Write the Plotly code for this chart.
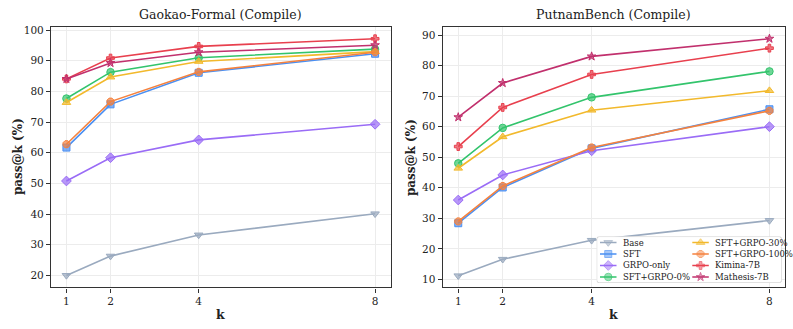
import plotly.graph_objects as go

# ---- data -------------------------------------------------------------
K = [1, 2, 4, 8]
SERIES = ["Base", "SFT", "GRPO-only", "SFT+GRPO-0%",
          "SFT+GRPO-30%", "SFT+GRPO-100%", "Kimina-7B", "Mathesis-7B"]

gaokao_base = [20.0, 26.3, 33.2, 40.1]
gaokao_sft = [61.7, 75.8, 86.1, 92.3]
gaokao_grpo = [50.8, 58.4, 64.2, 69.3]
gaokao_sft_grpo_0 = [77.7, 86.3, 91.0, 93.8]
gaokao_sft_grpo_30 = [76.4, 84.7, 89.8, 93.0]
gaokao_sft_grpo_100 = [62.8, 76.7, 86.4, 92.8]
gaokao_kimina = [84.1, 90.9, 94.7, 97.2]
gaokao_mathesis = [84.1, 89.3, 92.8, 95.1]

putnam_base = [11.2, 16.6, 22.8, 29.3]
putnam_sft = [28.4, 40.1, 52.9, 65.7]
putnam_grpo = [36.0, 44.2, 52.1, 60.0]
putnam_sft_grpo_0 = [48.0, 59.6, 69.6, 78.1]
putnam_sft_grpo_30 = [46.4, 56.7, 65.4, 71.8]
putnam_sft_grpo_100 = [29.0, 40.6, 53.2, 65.2]
putnam_kimina = [53.5, 66.3, 77.1, 85.7]
putnam_mathesis = [63.1, 74.3, 83.0, 88.8]

GAOKAO = [gaokao_base, gaokao_sft, gaokao_grpo, gaokao_sft_grpo_0,
          gaokao_sft_grpo_30, gaokao_sft_grpo_100, gaokao_kimina, gaokao_mathesis]
PUTNAM = [putnam_base, putnam_sft, putnam_grpo, putnam_sft_grpo_0,
          putnam_sft_grpo_30, putnam_sft_grpo_100, putnam_kimina, putnam_mathesis]

TITLES = ["Gaokao-Formal (Compile)", "PutnamBench (Compile)"]

# ---- styles -----------------------------------------------------------
COLORS = ["#9aaabf", "#4a8ff2", "#9a6cf6", "#33c46c",
          "#f2b92c", "#f5823e", "#e8404e", "#c1306d"]
SYMBOLS = ["triangle-down", "square", "diamond", "circle",
           "triangle-up", "octagon", "cross", "star"]
SIZES = [7.5, 7, 7.5, 7.5, 7.5, 7.5, 6.5, 6.5]
FONT = "DejaVu Serif"
W, H = 793, 329


def rgba(hex_color, a):
    h = hex_color.lstrip("#")
    r, g, b = int(h[0:2], 16), int(h[2:4], 16), int(h[4:6], 16)
    return f"rgba({r},{g},{b},{a})"


fig = go.Figure()

panels = [("x", "y", GAOKAO), ("x2", "y2", PUTNAM)]
for xa, ya, data in panels:
    for i, vals in enumerate(data):
        fig.add_trace(go.Scatter(
            x=K, y=vals, mode="lines+markers", name=SERIES[i],
            xaxis=xa, yaxis=ya, showlegend=False,
            line=dict(color=COLORS[i], width=1.6),
            marker=dict(symbol=SYMBOLS[i], size=SIZES[i], color=rgba(COLORS[i], 0.7),
                        line=dict(color=COLORS[i], width=1)),
        ))

# ---- legend drawn on its own hidden axes --------------------------------
BOX_W, BOX_H = 185.0, 46.6
ROW0, ROW_STEP = 6.0, 11.6
COL_X = [3.3, 95.6]
SEG = 16.5
for i, name in enumerate(SERIES):
    col, row = divmod(i, 4)
    yy = -(ROW0 + row * ROW_STEP)
    x0 = COL_X[col]
    fig.add_trace(go.Scatter(
        x=[x0, x0 + SEG / 2, x0 + SEG], y=[yy, yy, yy],
        mode="lines+markers", xaxis="x3", yaxis="y3", showlegend=False,
        hoverinfo="skip",
        line=dict(color=COLORS[i], width=1.6),
        marker=dict(symbol=SYMBOLS[i], size=[0, SIZES[i], 0], color=rgba(COLORS[i], 0.7),
                    line=dict(color=COLORS[i], width=1)),
    ))
    fig.add_annotation(x=x0 + SEG + 4, y=yy, xref="x3", yref="y3",
                       text=name, showarrow=False, xanchor="left", yanchor="middle",
                       font=dict(family=FONT, size=8.5, color="#222"))

# rounded legend frame
rr = 2.5
frame = (f"M {rr},0 L {BOX_W - rr},0 Q {BOX_W},0 {BOX_W},{-rr} "
         f"L {BOX_W},{-BOX_H + rr} Q {BOX_W},{-BOX_H} {BOX_W - rr},{-BOX_H} "
         f"L {rr},{-BOX_H} Q 0,{-BOX_H} 0,{-BOX_H + rr} L 0,{-rr} Q 0,0 {rr},0 Z")
fig.add_shape(type="path", path=frame, xref="x3", yref="y3",
              fillcolor="rgba(255,255,255,0.85)", line=dict(color="#cccccc", width=1),
              layer="below")

# ---- axes -------------------------------------------------------------
y_dom = [(H - 287) / H, (H - 24) / H]
x_doms = [[51 / W, 390.5 / W], [442.7 / W, 785 / W]]
y_ranges = [[16.1, 101.1], [7.4, 92.7]]

common = dict(showline=True, mirror=True, linecolor="#333333", linewidth=1.3,
              ticks="outside", ticklen=4, tickcolor="#333333", tickwidth=1,
              showgrid=True, gridcolor="#ececec", gridwidth=0.8, zeroline=False,
              tickfont=dict(family=FONT, size=10.5, color="#222"))

axes = {}
for j, (xd, yr) in enumerate(zip(x_doms, y_ranges)):
    sx = "" if j == 0 else "2"
    axes[f"xaxis{sx}"] = dict(common, domain=xd, range=[0.65, 8.35],
                              tickvals=K, ticktext=[str(k) for k in K],
                              anchor=f"y{sx}")
    axes[f"yaxis{sx}"] = dict(common, domain=y_dom, range=yr, dtick=10,
                              anchor=f"x{sx}")

lx0, lx1 = 596.7 / W, 781.7 / W
ly0, ly1 = (H - 282.3) / H, (H - 235.7) / H
axes["xaxis3"] = dict(domain=[lx0, lx1], range=[0, BOX_W], visible=False,
                      anchor="y3", fixedrange=True)
axes["yaxis3"] = dict(domain=[ly0, ly1], range=[-BOX_H, 0], visible=False,
                      anchor="x3", fixedrange=True)

fig.update_layout(
    width=W, height=H, margin=dict(l=0, r=0, t=0, b=0),
    paper_bgcolor="white", plot_bgcolor="white", showlegend=False,
    font=dict(family=FONT, color="#222"),
    **axes,
)

# titles and axis labels
for j, xd in enumerate(x_doms):
    cx = (xd[0] + xd[1]) / 2
    fig.add_annotation(x=cx, y=(H - 12) / H, xref="paper", yref="paper",
                       text=TITLES[j], showarrow=False, xanchor="center", yanchor="middle",
                       font=dict(family=FONT, size=12.5, color="#222"))
    fig.add_annotation(x=cx, y=(H - 314) / H, xref="paper", yref="paper",
                       text="<b>k</b>", showarrow=False, xanchor="center", yanchor="middle",
                       font=dict(family=FONT, size=12.5, color="#222"))
    ylx = [18 / W, 411 / W][j]
    fig.add_annotation(x=ylx, y=(y_dom[0] + y_dom[1]) / 2, xref="paper", yref="paper",
                       text="<b>pass@k (%)</b>", showarrow=False, textangle=-90,
                       xanchor="center", yanchor="middle",
                       font=dict(family=FONT, size=12, color="#222"))

fig.write_html("out.html")
